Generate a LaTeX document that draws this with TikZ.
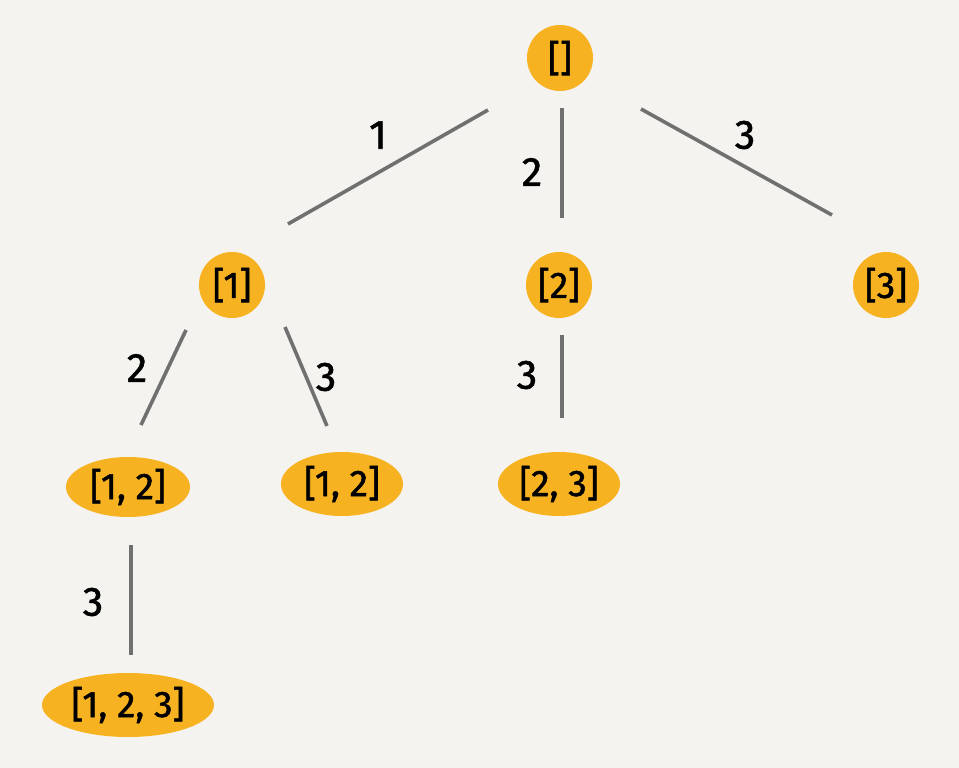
\documentclass[tikz,border=0pt]{standalone}
\usepackage{fontspec}
\setmainfont{Fira Sans}
\newfontfamily\heavyfont[FakeBold=1.4]{Fira Sans}
\usetikzlibrary{calc,shapes.geometric}
\definecolor{paper}{HTML}{F4F3EF}
\definecolor{fillorange}{HTML}{F6B220}
\definecolor{edgegray}{HTML}{707070}
\tikzset{
  statecircle/.style={circle, fill=fillorange, minimum size=66pt, inner sep=0pt,
    font=\heavyfont\fontsize{37}{42}\selectfont},
  stateoval/.style={ellipse, fill=fillorange, inner sep=0pt,
    font=\heavyfont\fontsize{37}{42}\selectfont},
  edge/.style={draw=edgegray, line width=3.6pt},
  choice/.style={font=\heavyfont\fontsize{41}{46}\selectfont, inner sep=0pt}
}
\begin{document}
\begin{tikzpicture}[x=1pt, y=-1pt]
  \fill[paper] (0,0) rectangle (959,768);
  \useasboundingbox (0,0) rectangle (959,768);

  % search tree states
  \node[statecircle] (root) at (560,58) {[]};
  \node[statecircle] (s1) at (232,285) {[1]};
  \node[statecircle] (s2) at (559,285) {[2]};
  \node[statecircle] (s3) at (886,285) {[3]};
  \node[stateoval, minimum width=124pt, minimum height=60pt] (s12) at (128,487) {[1, 2]};
  \node[stateoval, minimum width=122pt, minimum height=64pt] (s13) at (342,484) {[1, 2]};
  \node[stateoval, minimum width=122pt, minimum height=64pt] (s23) at (559,484) {[2, 3]};
  \node[stateoval, minimum width=172pt, minimum height=64pt] (s123) at (128,705) {[1, 2, 3]};

  % branches
  \draw[edge] ($(root)+(-72,52)$) -- ($(s1)+(56,-61)$);
  \draw[edge] ($(root)+(2,50)$) -- ($(s2)+(3,-67)$);
  \draw[edge] ($(root)+(81,51)$) -- ($(s3)+(-54,-70)$);
  \draw[edge] ($(s1)+(-46,45)$) -- ($(s12)+(13,-62)$);
  \draw[edge] ($(s1)+(53,42)$) -- ($(s13)+(-15,-58)$);
  \draw[edge] ($(s2)+(3,50)$) -- ($(s23)+(3,-66)$);
  \draw[edge] ($(s12)+(3,58)$) -- ($(s123)+(3,-50)$);

  % branch labels
  \node[choice] (l1) at (378,135) {1};
  \node[choice] (l2) at (532,172) {2};
  \node[choice] (l3) at (745,135) {3};
  \node[choice] (l12) at (137,368) {2};
  \node[choice] (l13) at (326,377) {3};
  \node[choice] (l23) at (527,375) {3};
  \node[choice] (l123) at (93,602) {3};
\end{tikzpicture}
\end{document}
